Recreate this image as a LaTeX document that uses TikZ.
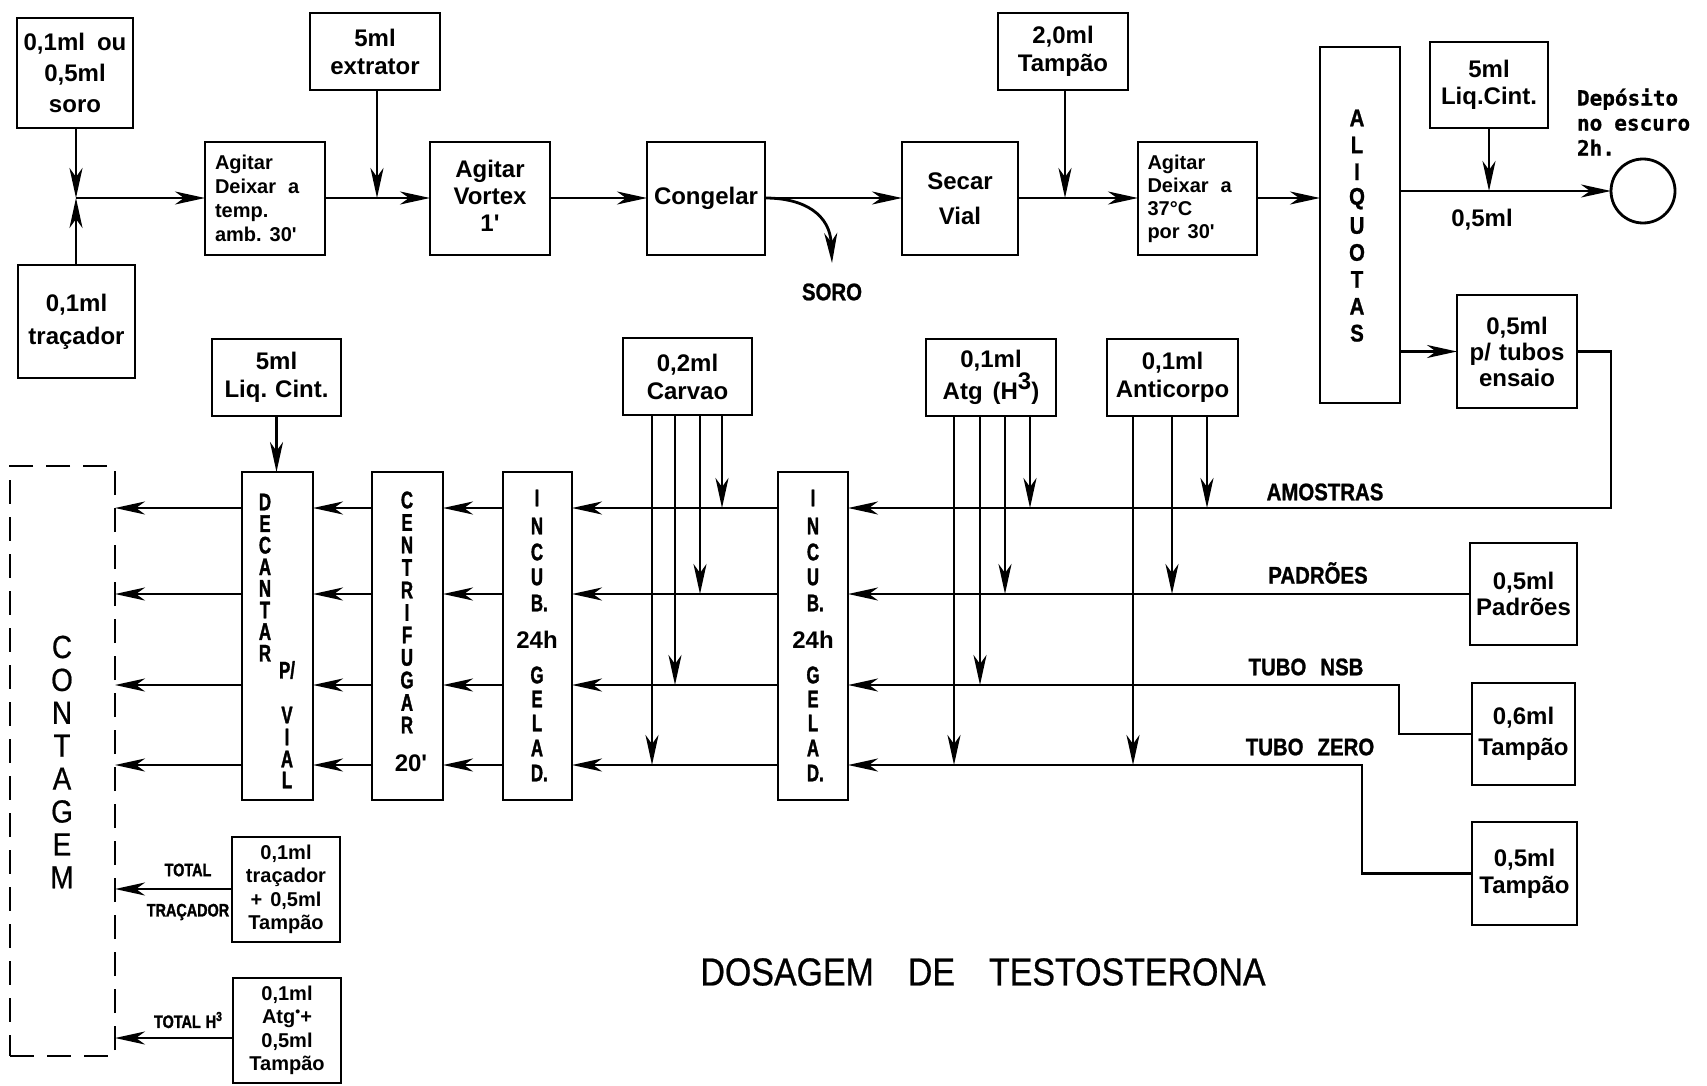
\documentclass[tikz,border=0pt]{standalone}
\usepackage{fontspec}
\setmainfont{Liberation Sans}
\newfontfamily\bxf{Liberation Sans}
\newfontfamily\cnf[FakeStretch=0.85,FakeBold=1]{Liberation Sans}
\newfontfamily\vcf[FakeStretch=0.7,FakeBold=1.5]{Liberation Sans}
\newfontfamily\tnf[FakeStretch=0.8,FakeBold=1.5]{Liberation Sans}
\newfontfamily\thf[FakeStretch=0.87,FakeBold=0.6]{Liberation Sans}
\newfontfamily\mnf[FakeBold=0.8]{DejaVu Sans Mono}
\usetikzlibrary{arrows.meta}
\newcommand{\fsz}[2]{\fontsize{#1}{#2}\selectfont}
\begin{document}
\begin{tikzpicture}[x=1pt,y=-1pt,
  every node/.style={inner sep=0pt,outer sep=0pt},
  box/.style={draw,line width=2.8pt,align=center,font=\bxf\bfseries\fsz{24}{28}},
  sbox/.style={box,font=\bxf\bfseries\fsz{20}{23.5}},
  flow/.style={line width=2.8pt,-{Stealth[length=30pt,width=13pt,inset=9pt]}},
  vl/.style={font=\vcf\bfseries\fsz{24}{24}},
  al/.style={font=\cnf\bfseries\fsz{24}{24}},
  rowlbl/.style={font=\cnf\bfseries\fsz{24}{24}},
  tlbl/.style={font=\tnf\bfseries\fsz{18}{18}},
  big/.style={font=\thf\fsz{32}{32}},
  dash box/.style={draw,line width=2.8pt,dash pattern=on 24pt off 13pt}
]
\fill[white] (0,0) rectangle (1707,1086);
\useasboundingbox (0,0) rectangle (1707,1086);

% ---------- top row ----------
\node[box,minimum width=116pt,minimum height=110pt,font=\bxf\bfseries\fsz{24}{31}] (soro) at (75,73) {0,1ml\hspace{12pt}ou\\0,5ml\\soro};
\node[box,minimum width=117pt,minimum height=113pt,font=\bxf\bfseries\fsz{24}{33}] (tracador) at (76.5,321.5) {0,1ml\\traçador};
\node[box,minimum width=120pt,minimum height=113pt,text width=100pt,align=left,font=\bxf\bfseries\fsz{20}{24}] (agit1) at (265,198.5) {Agitar\\Deixar\hspace{12pt}a\\temp.\\amb.\hspace{8pt}30'};
\node[box,minimum width=130pt,minimum height=77pt] (extrator) at (375,51.5) {5ml\\extrator};
\node[box,minimum width=120pt,minimum height=113pt,font=\bxf\bfseries\fsz{24}{27}] (vortex) at (490,198.5) {Agitar\\Vortex\\1'\vphantom{p}};
\node[box,minimum width=118pt,minimum height=113pt] (congelar) at (706,198.5) {Congelar};
\node[box,minimum width=116pt,minimum height=113pt,font=\bxf\bfseries\fsz{24}{35}] (secar) at (960,198.5) {Secar\\Vial};
\node[box,minimum width=130pt,minimum height=77pt] (tampao2) at (1063,51.5) {2,0ml\\Tampão};
\node[box,minimum width=119pt,minimum height=113pt,text width=100pt,align=left,font=\bxf\bfseries\fsz{20}{23}] (agit37) at (1197.5,198.5) {Agitar\\Deixar\hspace{12pt}a\\37°C\\por\hspace{8pt}30'};
\node[box,minimum width=80pt,minimum height=356pt] (aliq) at (1360,225) {};
\foreach \l [count=\i from 0] in {A,L,I,Q,U,O,T,A,S}
  \node[al] (aq\i) at (1357,118+26.9*\i) {\l};
\node[box,minimum width=118pt,minimum height=86pt,font=\bxf\bfseries\fsz{24}{27}] (liqcint1) at (1489,85) {5ml\\Liq.Cint.};
\node[draw,line width=2.8pt,circle,minimum size=64pt] (circ) at (1643,191) {};
\node[anchor=west,align=left,font=\mnf\bfseries\fsz{21}{25}] (depo) at (1577,122) {Depósito\\no\hspace{12pt}escuro\\2h.};
\node[font=\bxf\bfseries\fsz{24}{24}] (lbl05) at (1482,220) {0,5ml};
\node[box,minimum width=120pt,minimum height=113pt,font=\bxf\bfseries\fsz{24}{26}] (ptubos) at (1517,351.5) {0,5ml\\p/\hspace{8pt}tubos\\ensaio};
\node[rowlbl] (sorolbl) at (832,292) {SORO};

% ---------- lower part ----------
\node[box,minimum width=129pt,minimum height=77pt] (liqcint2) at (276.5,377.5) {5ml\\Liq.\hspace{8pt}Cint.};
\node[box,minimum width=129pt,minimum height=77pt] (carvao) at (687.5,376.5) {0,2ml\\Carvao};
\node[box,minimum width=130pt,minimum height=77pt] (atg) at (991,377.5) {0,1ml\\Atg\hspace{10pt}(H\raisebox{10pt}{3})};
\node[box,minimum width=131pt,minimum height=77pt] (anticorpo) at (1172.5,377.5) {0,1ml\\Anticorpo};

\node[dash box,minimum width=105pt,minimum height=590pt] (contagem) at (62.5,761) {};
\foreach \l [count=\i from 0] in {C,O,N,T,A,G,E,M}
  \node[big] (cg\i) at (62,647+32.9*\i) {\l};

\node[box,minimum width=71pt,minimum height=328pt] (decantar) at (277.5,636) {};
\foreach \l [count=\i from 0] in {D,E,C,A,N,T,A,R}
  \node[vl] (dl\i) at (265,502+21.6*\i) {\l};
\node[vl] (dpb) at (287,670) {P/};
\foreach \l/\yy [count=\i] in {V/715,I/737,A/759,L/780}
  \node[vl] (dv\i) at (287,\yy) {\l};

\node[box,minimum width=71pt,minimum height=328pt] (centrif) at (407.5,636) {};
\foreach \l [count=\i from 0] in {C,E,N,T,R,I,F,U,G,A,R}
  \node[vl] (cf\i) at (407,500+22.5*\i) {\l};
\node[font=\bxf\bfseries\fsz{24}{24}] (c20) at (411,763) {20'};

\node[box,minimum width=69pt,minimum height=328pt] (incub1) at (537.5,636) {};
\node[box,minimum width=70pt,minimum height=328pt] (incub2) at (813,636) {};
\foreach \l/\yy [count=\i] in {I/498,N/526,C/552,U/577,B\rlap{.}/603,G/675,E/699,L/723,A/748,D\rlap{.}/773}{
  \node[vl] (ia\i) at (537,\yy) {\l};
  \node[vl] (ib\i) at (813,\yy) {\l};
}
\node[font=\bxf\bfseries\fsz{24}{24}] (ia24) at (537,640) {24h};
\node[font=\bxf\bfseries\fsz{24}{24}] (ib24) at (813,640) {24h};

\node[box,minimum width=107pt,minimum height=102pt,font=\bxf\bfseries\fsz{24}{26}] (padroes) at (1523.5,594) {0,5ml\\Padrões};
\node[box,minimum width=103pt,minimum height=102pt,font=\bxf\bfseries\fsz{24}{31}] (nsb) at (1523.5,734) {0,6ml\\Tampão};
\node[box,minimum width=105pt,minimum height=103pt,font=\bxf\bfseries\fsz{24}{27}] (zero) at (1524.5,873.5) {0,5ml\\Tampão};

\node[sbox,minimum width=108pt,minimum height=105pt] (tt) at (286,889.5) {0,1ml\\traçador\\+\hspace{8pt}0,5ml\\Tampão};
\node[sbox,minimum width=108pt,minimum height=105pt] (th) at (287,1030.5) {0,1ml\\Atg\raisebox{7pt}{\fsz{14}{14}•}+\\0,5ml\\Tampão};

\node[rowlbl] (lamo) at (1325,492) {AMOSTRAS};
\node[rowlbl] (lpad) at (1318,573) {PADRÕES};
\node[rowlbl] (lnsb) at (1306,667) {TUBO\hspace{14pt}NSB};
\node[rowlbl] (lzero) at (1310,747) {TUBO\hspace{14pt}ZERO};
\node[tlbl] (ltot1) at (188,870) {TOTAL};
\node[tlbl] (ltot2) at (188,912) {TRAÇADOR};
\node[tlbl] (ltot3) at (188,1020) {TOTAL\hspace{5pt}H\raisebox{7pt}{\fsz{13}{13}3}};

\node[font=\thf\fsz{39}{40}] (title) at (983,972) {DOSAGEM\hspace{34pt}DE\hspace{34pt}TESTOSTERONA};

% ---------- coordinates ----------
\coordinate (J) at (76,198);
\coordinate (m1) at (377,198);
\coordinate (m2) at (1065,198);
\coordinate (sorotip) at (832,263);
\coordinate (r1) at (0,508);
\coordinate (r2) at (0,594);
\coordinate (r3) at (0,685);
\coordinate (r4) at (0,765);
\coordinate (rt1) at (0,889);
\coordinate (rt2) at (0,1038);
\coordinate (c1) at (1611,0);
\coordinate (c3) at (1399,0);
\coordinate (c4) at (1362,0);

% ---------- top connectors ----------
\draw[flow] (soro.south -| J) -- (J);
\draw[flow] (tracador.north -| J) -- (J);
\draw[flow] (J) -- (agit1.west |- J);
\draw[flow] (extrator.south -| m1) -- (m1);
\draw[flow] (agit1.east |- J) -- (vortex.west |- J);
\draw[flow] (vortex.east |- J) -- (congelar.west |- J);
\draw[flow] (congelar.east |- J) -- (secar.west |- J);
\draw[flow] (congelar.east |- J) .. controls (805,198) and (830,215) .. (sorotip);
\draw[flow] (tampao2.south -| m2) -- (m2);
\draw[flow] (secar.east |- J) -- (agit37.west |- J);
\draw[flow] (agit37.east |- J) -- (aliq.west |- J);
\draw[flow] (aliq.east |- circ.west) -- (circ.west);
\draw[flow] (liqcint1.south) -- (liqcint1.south |- circ.west);
\draw[flow] (aliq.east |- ptubos.west) -- (ptubos.west);

% ---------- rows ----------
\draw[flow] (ptubos.east) -| (c1 |- r1) -- (incub2.east |- r1);
\draw[flow] (padroes.west) -- (incub2.east |- r2);
\draw[flow] (nsb.west) -| (c3 |- r3) -- (incub2.east |- r3);
\draw[flow] (zero.west) -| (c4 |- r4) -- (incub2.east |- r4);
\foreach \r in {r1,r2,r3,r4}{
  \draw[flow] (incub2.west |- \r) -- (incub1.east |- \r);
  \draw[flow] (incub1.west |- \r) -- (centrif.east |- \r);
  \draw[flow] (centrif.west |- \r) -- (decantar.east |- \r);
  \draw[flow] (decantar.west |- \r) -- (contagem.east |- \r);
}
\draw[flow] (liqcint2.south) -- (liqcint2.south |- decantar.north);

% ---------- reagent drops ----------
\foreach \xx/\r [count=\i] in {722/r1,700/r2,675/r3,652/r4}{
  \coordinate (cv\i) at (\xx,0);
  \draw[flow] (carvao.south -| cv\i) -- (cv\i |- \r);
}
\foreach \xx/\r [count=\i] in {1030/r1,1005/r2,980/r3,954/r4}{
  \coordinate (ag\i) at (\xx,0);
  \draw[flow] (atg.south -| ag\i) -- (ag\i |- \r);
}
\foreach \xx/\r [count=\i] in {1207/r1,1172/r2,1133/r4}{
  \coordinate (ac\i) at (\xx,0);
  \draw[flow] (anticorpo.south -| ac\i) -- (ac\i |- \r);
}

% ---------- totals ----------
\draw[flow] (tt.west |- rt1) -- (contagem.east |- rt1);
\draw[flow] (th.west |- rt2) -- (contagem.east |- rt2);
\end{tikzpicture}
\end{document}
